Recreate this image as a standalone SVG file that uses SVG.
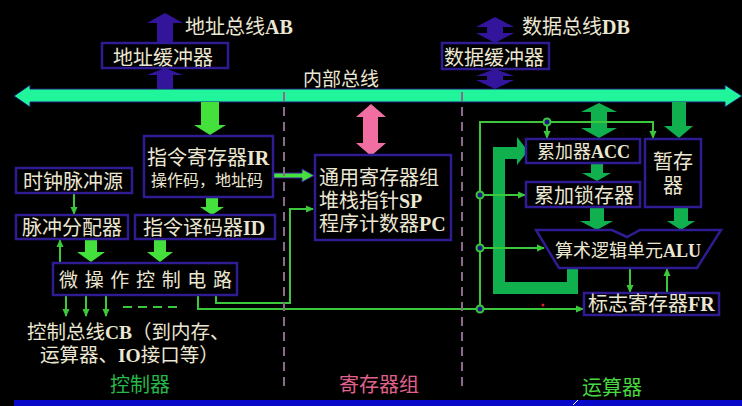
<svg xmlns="http://www.w3.org/2000/svg" width="742" height="406" viewBox="0 0 742 406">
<style>
.t{font-family:"Liberation Serif","Noto Sans CJK SC",serif;fill:#ece7d3;font-size:20px}
.b{font-weight:bold}
.box{fill:#000;stroke:#2f1b92;stroke-width:2.5}
.thin{fill:none;stroke:#3cc83c;stroke-width:2}
.lime{fill:#44e03c}
.dg{fill:#10b04e}
.pur{fill:#33159c}
.dash{fill:none;stroke:#8b6b8b;stroke-width:2;stroke-dasharray:9 6}
.jn{fill:#1a1a80;stroke:#3cc83c;stroke-width:2}
</style>
<defs>
<marker id="ah" markerWidth="8" markerHeight="8" refX="7" refY="4" orient="auto" markerUnits="userSpaceOnUse">
<path d="M0,0.5 L8,4 L0,7.5 Z" fill="#3cc83c"/>
</marker>
</defs>
<rect width="742" height="406" fill="#000"/>
<rect x="14" y="400" width="728" height="6" fill="#0808c8"/>

<g id="internal-bus">
<polygon points="14,96 30,85 30,89 725,89 725,85 742,96 725,107 725,102 30,102 30,107" fill="#20f59c" stroke="#1a1a6e" stroke-width="1"/>
<text class="t" x="303" y="86" style="font-size:19px">内部总线</text>
</g>

<g id="address-bus">
<polygon class="pur" points="165,13 183,23 173,23 173,43 157,43 157,23 147,23"/>
<polygon class="pur" points="165,68 183,75 173,75 173,89 157,89 157,75 147,75"/>
<text class="t" x="185" y="34">地址总线<tspan class="b">AB</tspan></text>
</g>
<g id="address-buffer">
<rect class="box" x="102" y="43" width="126" height="25"/>
<text class="t" x="113" y="65">地址缓冲器</text>
</g>

<g id="data-bus">
<polygon class="pur" points="495,17 514,27 503,27 503,33 514,33 495,43 476,33 487,33 487,27 476,27"/>
<polygon class="pur" points="495,69 514,76 503,76 503,80 514,80 495,89 476,80 487,80 487,76 476,76"/>
<text class="t" x="522" y="34">数据总线<tspan class="b">DB</tspan></text>
</g>
<g id="data-buffer">
<rect class="box" x="442" y="43" width="107" height="26"/>
<text class="t" x="444" y="65">数据缓冲器</text>
</g>

<g id="connectors">
<polygon class="lime" points="201,102 219,102 219,125 226,125 210,135 194,125 201,125"/>
<polygon class="lime" points="206,197 218,197 218,207 224,207 212,215 200,207 206,207"/>
<polygon class="lime" points="85,239 97,239 97,252 105,252 91,262 77,252 85,252"/>
<polygon class="lime" points="154,239 166,239 166,252 173,252 160,262 147,252 154,252"/>
<polygon points="273,173 302,173 302,169 314,175.5 302,182 302,178 273,178" fill="#44e03c" stroke="#3a1aa0" stroke-width="1"/>
<polygon points="371,104 386,117 378,117 378,143 386,143 371,156 356,143 363,143 363,117 356,117" fill="#f06ea2"/>
<polygon class="dg" points="599,103 617,112 607,112 607,128 617,128 599,138 581,128 591,128 591,112 581,112"/>
<polygon class="dg" points="672,102 686,102 686,126 693,126 679,138 664,126 672,126"/>
<polygon class="dg" points="591,163 603,163 603,173 611,173 597,181 582,173 591,173"/>
<polygon class="dg" points="590,207 604,207 604,221 613,221 597,230 580,221 590,221"/>
<polygon class="dg" points="674,207 688,207 688,221 695,221 681,230 667,221 674,221"/>
<polygon class="dg" points="567,268 578,268 578,294 493,294 493,147 517,147 517,137 528,151 517,165 517,159 505,159 505,282 567,282"/>
<path class="thin" d="M74,193 V214" marker-end="url(#ah)"/>
<path class="thin" d="M60,263 V240" marker-end="url(#ah)"/>
<path class="thin" d="M66,295 V316" marker-end="url(#ah)"/>
<path class="thin" d="M86,295 V316" marker-end="url(#ah)"/>
<path class="thin" d="M106,295 V316" marker-end="url(#ah)"/>
<path class="thin" d="M123,307 H177" stroke-dasharray="9 6"/>
<path class="thin" d="M198,295 V309 H583" marker-end="url(#ah)"/>
<path class="thin" d="M216,295 V303 H290 V209 H313" marker-end="url(#ah)"/>
<path class="thin" d="M480,309 V122 H653 V138" marker-end="url(#ah)"/>
<path class="thin" d="M547,122 V138" marker-end="url(#ah)"/>
<path class="thin" d="M480,195 H525" marker-end="url(#ah)"/>
<path class="thin" d="M480,248 H544" marker-end="url(#ah)"/>
<path class="thin" d="M630,268 V292" marker-end="url(#ah)"/>
<path class="thin" d="M667,293 V269" marker-end="url(#ah)"/>
<circle class="jn" cx="547" cy="122" r="3.5"/>
<circle class="jn" cx="480" cy="195" r="3.5"/>
<circle class="jn" cx="480" cy="248" r="3.5"/>
<circle class="jn" cx="480" cy="309" r="3.5"/>
</g>

<path class="dash" d="M284,92 V390"/>
<path class="dash" d="M462,92 V390"/>

<g id="ir">
<rect class="box" x="144" y="136" width="129" height="61"/>
<text class="t" x="147" y="165">指令寄存器<tspan class="b">IR</tspan></text>
<text class="t" x="151" y="186" style="font-size:16px">操作码，地址码</text>
</g>
<g id="clock">
<rect class="box" x="16" y="168" width="116" height="25"/>
<text class="t" x="23" y="189">时钟脉冲源</text>
</g>
<g id="pulse">
<rect class="box" x="16" y="215" width="112" height="24"/>
<text class="t" x="22" y="235">脉冲分配器</text>
</g>
<g id="id">
<rect class="box" x="135" y="215" width="140" height="24"/>
<text class="t" x="143" y="235">指令译码器<tspan class="b">ID</tspan></text>
</g>
<g id="micro">
<rect class="box" x="53" y="263" width="184" height="32"/>
<text class="t" x="59" y="287" style="font-size:19px" textLength="173" lengthAdjust="spacing">微 操 作 控 制 电 路</text>
</g>
<g id="cb-label">
<text class="t" x="27" y="339" style="font-size:19.5px">控制总线<tspan class="b">CB</tspan>（到内存、</text>
<text class="t" x="40" y="362" style="font-size:19.5px">运算器、<tspan class="b">IO</tspan>接口等）</text>
</g>

<g id="registers">
<rect class="box" x="315" y="155" width="136" height="85"/>
<text class="t" x="319" y="185">通用寄存器组</text>
<text class="t" x="319" y="208">堆栈指针<tspan class="b">SP</tspan></text>
<text class="t" x="319" y="231">程序计数器<tspan class="b">PC</tspan></text>
</g>

<g id="acc">
<rect class="box" x="526" y="139" width="114" height="24"/>
<text class="t" x="537" y="158" style="font-size:18px">累加器<tspan class="b">ACC</tspan></text>
</g>
<g id="temp">
<rect class="box" x="645" y="139" width="56" height="68"/>
<text class="t" x="673" y="169" text-anchor="middle">暂存</text>
<text class="t" x="673" y="193" text-anchor="middle">器</text>
</g>
<g id="latch">
<rect class="box" x="526" y="182" width="114" height="25"/>
<text class="t" x="534" y="203">累加锁存器</text>
</g>
<g id="alu">
<polygon class="box" points="536,230 612,230 627,237 640,230 721,230 697,268 559,268"/>
<text class="t" x="555" y="257" style="font-size:18px">算术逻辑单元<tspan class="b">ALU</tspan></text>
</g>
<g id="fr">
<rect class="box" x="584" y="293" width="135" height="22"/>
<text class="t" x="588" y="311">标志寄存器<tspan class="b">FR</tspan></text>
</g>

<g id="section-labels">
<text class="t" x="110" y="392" style="fill:#26b848">控制器</text>
<text class="t" x="339" y="392" style="fill:#e0628c">寄存器组</text>
<text class="t" x="582" y="395" style="fill:#48d840">运算器</text>
</g>
<circle cx="543" cy="305" r="1.5" fill="#e02020"/>
<path d="M573,405 L578,400" stroke="#ffffff" stroke-width="1"/>
</svg>
